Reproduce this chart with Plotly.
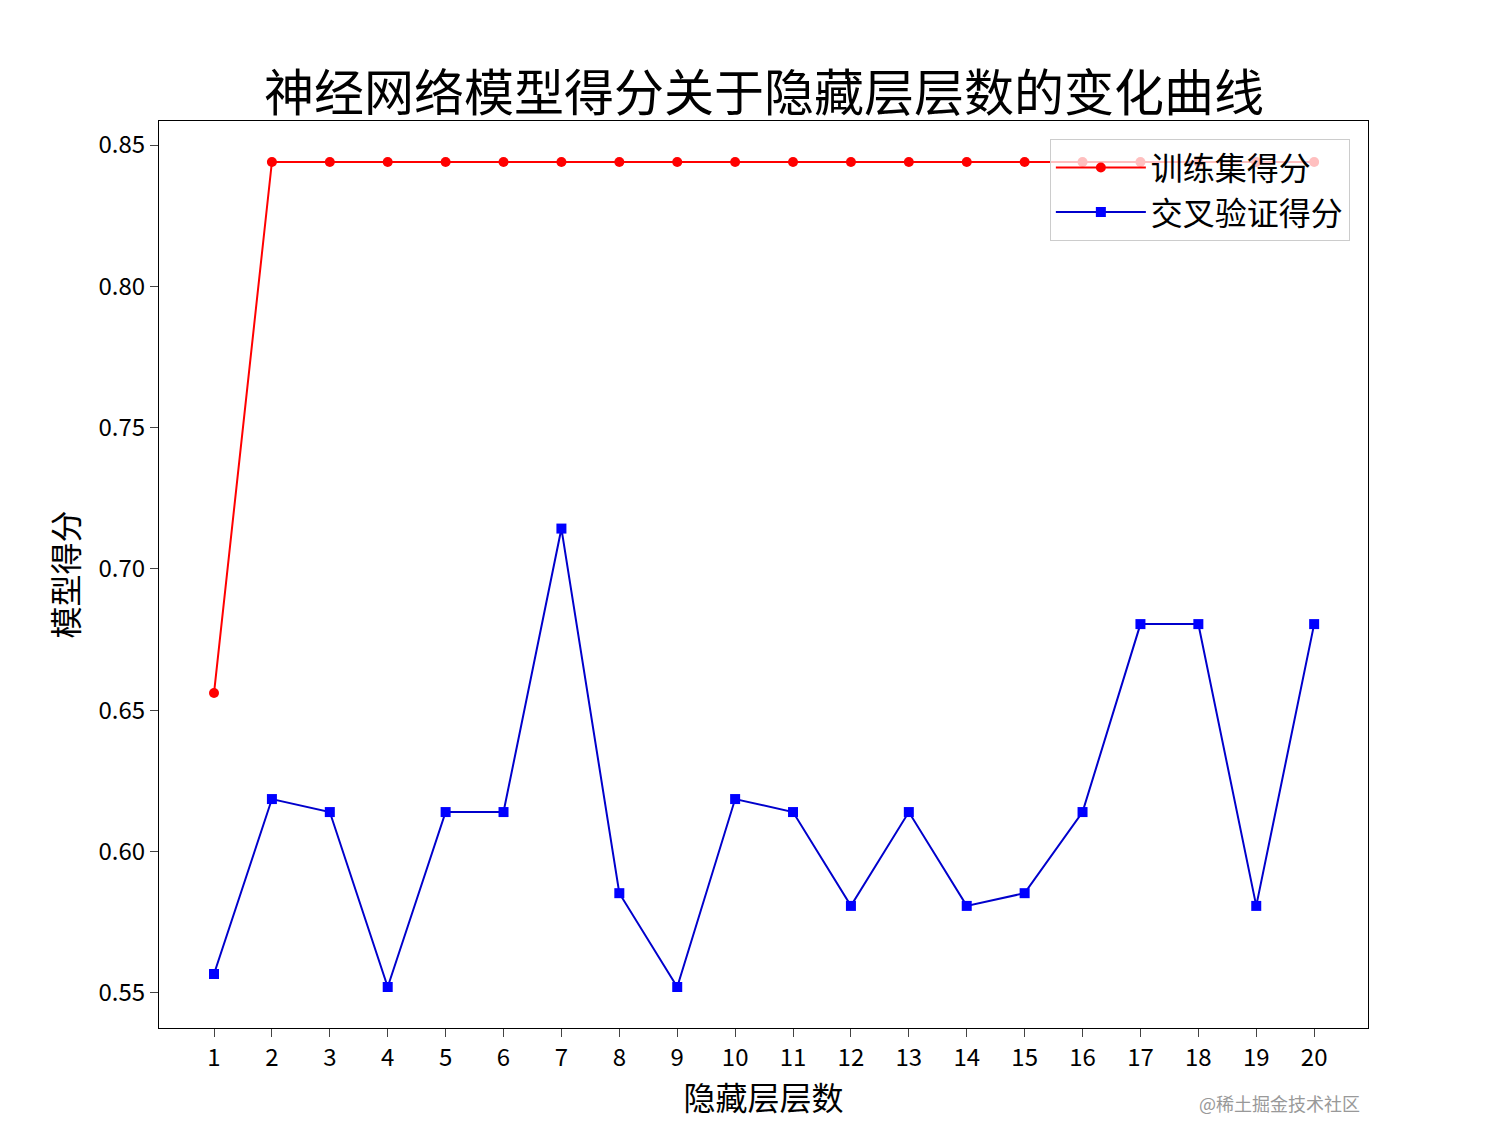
import plotly.graph_objects as go

layers = list(range(1, 21))
train = [0.6561] + [0.844] * 19
cv = [0.5567, 0.6186, 0.6140, 0.5521, 0.6140, 0.6140, 0.7143, 0.5853, 0.5521, 0.6186,
      0.6140, 0.5808, 0.6140, 0.5808, 0.5853, 0.6140, 0.6805, 0.6805, 0.5808, 0.6805]
yticks = [0.55, 0.60, 0.65, 0.70, 0.75, 0.80, 0.85]

F = "Noto Sans CJK SC"
fig = go.Figure()
fig.add_trace(go.Scatter(x=layers, y=train, name="训练集得分", mode="lines+markers",
                         line=dict(color="red", width=2),
                         marker=dict(symbol="circle", size=10, color="red")))
fig.add_trace(go.Scatter(x=layers, y=cv, name="交叉验证得分", mode="lines+markers",
                         line=dict(color="#0000cc", width=2),
                         marker=dict(symbol="square", size=10, color="blue")))
fig.update_layout(
    width=1512, height=1134, paper_bgcolor="white", plot_bgcolor="white",
    margin=dict(l=151, r=152, t=113, b=114, autoexpand=False),
    font=dict(family=F, color="black", size=24),
    title=dict(text="神经网络模型得分关于隐藏层层数的变化曲线", x=0.5, xanchor="center",
               y=0.925, yanchor="middle", font=dict(size=50)),
    xaxis=dict(range=[0.05, 20.93], tickvals=layers, ticks="outside", ticklen=8,
               showgrid=False, zeroline=False, showline=True, linecolor="black", mirror=True,
               title=dict(text="隐藏层层数", font=dict(size=32), standoff=10)),
    yaxis=dict(range=[0.5376, 0.8585], tickvals=yticks, tickformat=".2f", ticks="outside",
               ticklen=8, showgrid=False, zeroline=False, showline=True, linecolor="black",
               mirror=True, title=dict(text="模型得分", font=dict(size=32), standoff=10)),
    legend=dict(x=0.985, y=0.98, xanchor="right", yanchor="top",
                bgcolor="rgba(255,255,255,0.75)", bordercolor="#cccccc", borderwidth=1,
                font=dict(size=32), itemwidth=90, tracegroupgap=8),
    annotations=[dict(text="@稀土掘金技术社区", x=0.995, y=-0.083, xref="paper", yref="paper",
                      xanchor="right", yanchor="middle",
                      showarrow=False, font=dict(size=18, color="#999999"))],
)
fig.write_html("out.html")
